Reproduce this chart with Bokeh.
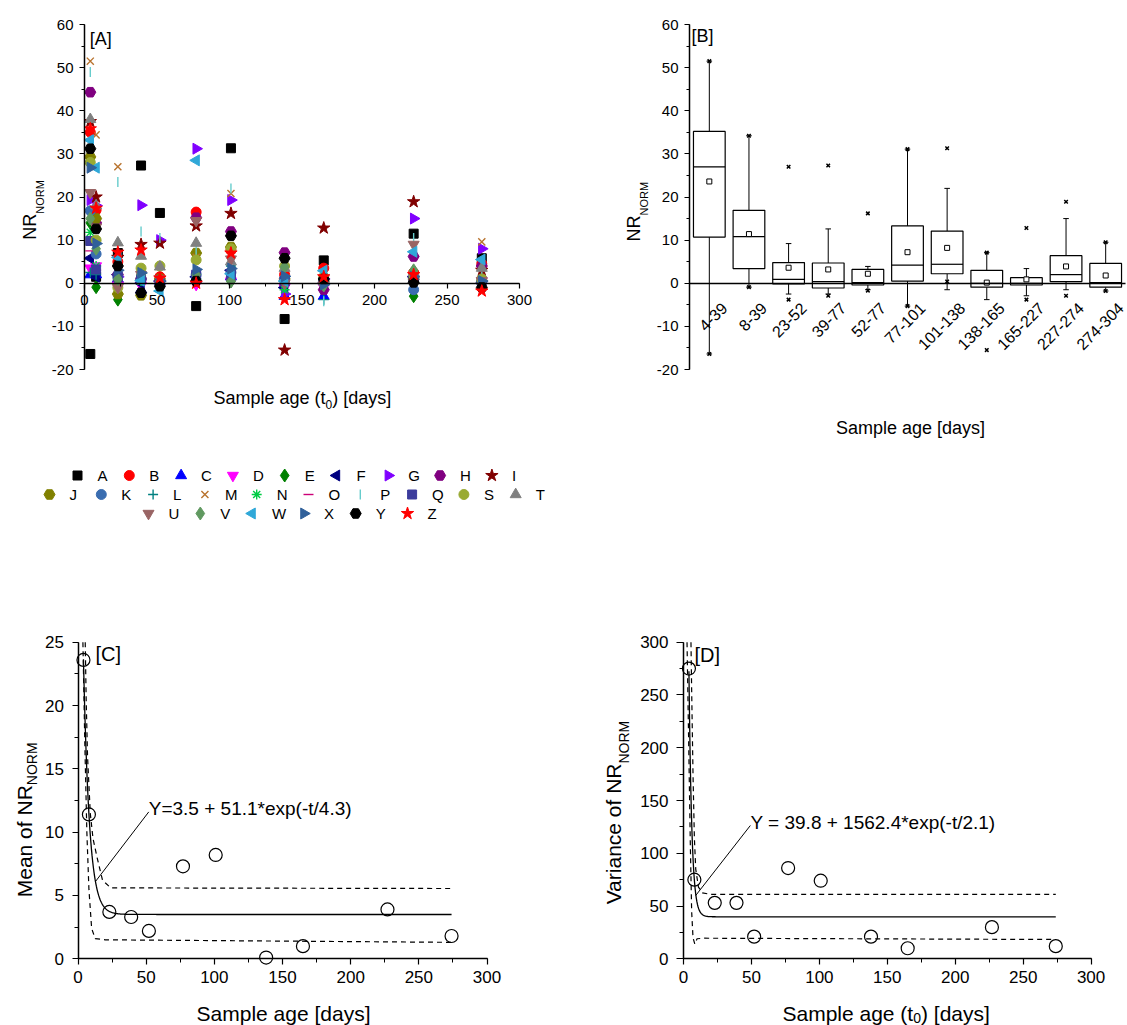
import numpy as np
from math import pi
from bokeh.plotting import figure
from bokeh.layouts import column, row
from bokeh.models import Label, FixedTicker, Range1d
from bokeh.embed import file_html
from bokeh.resources import INLINE

FONT = "Liberation Sans"

# ---------------- data ----------------
ages = [4, 8, 23, 39, 52, 77, 101, 138, 165, 227, 274]

nr_A = [-16.4, 1.5, 7.0, 27.3, 16.3, -5.3, 31.3, -8.3, 5.3, 11.5, 5.8]
nr_B = [35.0, 17.0, 5.0, 1.0, 1.5, 16.5, 7.6, 2.0, 3.5, 2.5, 4.5]
nr_C = [2.0, 2.0, 1.0, -1.5, 0.5, 1.0, 1.5, -3.0, -3.0, 1.5, 1.0]
nr_D = [3.5, 4.0, -0.5, -0.5, 0.0, -0.3, 0.5, -1.0, -1.0, 1.0, 0.5]
nr_E = [14.0, -0.9, -3.8, 0.5, 0.0, 1.0, 0.5, 0.5, 0.0, -3.0, 0.0]
nr_F = [5.8, 1.5, 2.0, 0.0, 0.5, 1.5, 3.0, -1.0, 0.0, 1.5, 0.0]
nr_G = [19.3, 18.0, 1.5, 18.1, 10.0, 31.2, 19.3, -2.5, 1.0, 15.0, 8.0]
nr_H = [44.3, 14.0, 2.0, 1.0, 0.5, 15.2, 12.0, 7.1, -1.5, 6.2, 4.0]
nr_I = [37.5, 20.0, 6.0, 9.0, 9.3, 13.3, 16.2, -15.5, 12.8, 18.9, 3.0]
nr_J = [29.3, 15.0, -2.5, -2.8, 1.0, 7.0, 8.4, 1.0, 0.5, 1.0, 0.5]
nr_K = [16.8, 6.8, 1.5, 1.0, 0.0, 2.0, 2.5, 1.0, 0.5, -1.5, 0.5]
nr_L = [2.5, 2.0, 2.0, 1.0, 0.5, 1.0, 4.0, 0.5, -3.8, 0.5, 0.5]
nr_M = [51.5, 34.4, 27.0, 0.5, 1.0, 6.0, 20.8, 0.0, 1.0, 1.5, 9.6]
nr_N = [11.8, 4.0, 1.0, 0.5, 0.0, 1.0, 1.0, -1.5, 0.0, 0.5, 0.0]
nr_O = [7.5, 3.0, 0.5, 0.0, 0.5, 0.5, 1.0, -0.5, 0.5, 0.5, 0.0]
nr_P = [49.0, 3.5, 23.5, 12.0, 10.5, 7.5, 22.0, 1.0, -4.2, 10.5, 1.5]
nr_Q = [9.8, 3.2, 1.5, 1.0, 0.0, 2.0, 2.0, 0.5, 0.5, 1.0, 0.5]
nr_S = [28.0, 10.0, -1.0, 3.5, 4.0, 5.4, 8.0, 4.0, 1.5, 2.0, 1.0]
nr_T = [38.0, 18.0, 9.4, 6.3, 3.8, 9.3, 5.0, 3.5, 0.5, 2.5, 3.5]
nr_U = [21.0, 13.0, -1.0, 2.0, 1.0, 14.5, 5.6, 0.0, -0.5, 9.0, 0.6]
nr_V = [15.0, 8.0, 1.0, 2.0, 0.5, 2.0, 0.4, 3.8, -0.5, 3.0, 0.0]
nr_W = [33.2, 26.8, 6.0, 0.6, -1.8, 28.5, 2.2, 0.5, 2.9, 7.3, 5.5]
nr_X = [26.8, 9.2, 3.0, 2.4, 0.5, 3.2, 3.4, 1.6, -0.3, 1.5, 0.5]
nr_Y = [31.2, 12.6, 4.0, -2.2, -0.7, 0.5, 11.0, 5.8, 1.0, 0.2, -1.0]
nr_Z = [35.8, 17.4, 7.2, 7.7, 1.2, 0.0, 7.0, -3.8, 1.5, 2.0, -1.8]

series = {"A": nr_A, "B": nr_B, "C": nr_C, "D": nr_D, "E": nr_E, "F": nr_F,
          "G": nr_G, "H": nr_H, "I": nr_I, "J": nr_J, "K": nr_K, "L": nr_L,
          "M": nr_M, "N": nr_N, "O": nr_O, "P": nr_P, "Q": nr_Q, "S": nr_S,
          "T": nr_T, "U": nr_U, "V": nr_V, "W": nr_W, "X": nr_X, "Y": nr_Y,
          "Z": nr_Z}
legend_rows = [["A", "B", "C", "D", "E", "F", "G", "H", "I"],
               ["J", "K", "L", "M", "N", "O", "P", "Q", "S", "T"],
               ["U", "V", "W", "X", "Y", "Z"]]

box_labels = ["4-39", "8-39", "23-52", "39-77", "52-77", "77-101", "101-138",
              "138-165", "165-227", "227-274", "274-304"]
box_q1 = [10.7, 3.4, -0.15, -1.1, -0.4, 0.5, 2.2, -0.9, -0.4, 0.4, -0.9]
box_med = [27.0, 10.8, 0.9, 0.4, 0.15, 4.2, 4.4, 0.0, 0.0, 2.0, 0.15]
box_q3 = [35.2, 16.9, 4.8, 4.7, 3.2, 13.3, 12.1, 3.0, 1.3, 6.4, 4.6]
box_mean = [23.6, 11.4, 3.6, 3.2, 2.2, 7.2, 8.2, 0.15, 0.9, 3.9, 1.8]
box_whi = [51.5, 34.2, 9.2, 12.6, 3.9, 31.1, 22.0, 7.1, 3.4, 15.0, 9.5]
box_wlo = [-16.4, -0.9, -2.5, -2.5, -1.5, -5.3, -1.5, -3.8, -2.9, -1.5, -1.8]
box_max = [51.5, 34.2, 27.0, 27.3, 16.2, 31.1, 31.3, 7.1, 12.8, 18.9, 9.5]
box_min = [-16.4, -0.9, -3.8, -2.9, -1.7, -5.3, 0.4, -15.5, -3.8, -2.9, -1.8]

mean_nr = [23.6, 11.4, 3.7, 3.3, 2.2, 7.3, 8.2, 0.1, 1.0, 3.9, 1.8]
var_nr = [275, 75, 53, 53, 21, 86, 74, 21, 10, 30, 12]

# fit parameters printed on the chart: Y = y0 + A*exp(-t/tau)
fitC = (3.5, 51.1, 4.3)
fitD = (39.8, 1562.4, 2.1)
eqC = "Y=3.5 + 51.1*exp(-t/4.3)"
eqD = "Y = 39.8 + 1562.4*exp(-t/2.1)"

# confidence bands
bandC_up_t = [5.3, 6, 7, 9, 11, 14, 18, 24, 274]
bandC_up_y = [25, 20.5, 16, 11.5, 9.5, 8.0, 6.2, 5.6, 5.55]
bandC_lo_t = [3.6, 5, 6.5, 8, 10, 12.6, 20, 274]
bandC_lo_y = [25, 17, 10, 5.5, 2.4, 1.6, 1.5, 1.3]
bandD_up_t = [5.5, 6, 7, 8, 9, 11, 14, 20, 274]
bandD_up_y = [300, 255, 175, 115, 85, 68, 62.5, 61, 61]
bandD_lo_t = [2.6, 4, 5, 6, 7, 8.3, 10, 15, 274]
bandD_lo_y = [300, 190, 110, 45, 20, 14, 19, 19.5, 18.3]

# callout lines (text anchor -> curve)
calloutC = ([51.9, 12.8], [11.6, 6.1])
calloutD = ([49.2, 9.0], [126.3, 60.0])

# ---------------- styles ----------------
marker_style = {
    "A": ("square", "#000000", 9, 0.0),
    "B": ("circle", "#FF0000", 10, 0.0),
    "C": ("triangle", "#0000FF", 11, 0.0),
    "D": ("inverted_triangle", "#FF00FF", 11, 0.0),
    "E": ("diamond", "#008000", 13, 0.0),
    "F": ("triangle", "#000080", 11, pi / 2),
    "G": ("triangle", "#8000FF", 11, -pi / 2),
    "H": ("hex", "#800080", 11, 0.0),
    "I": ("star", "#800000", 13, 0.0),
    "J": ("hex", "#808000", 11, 0.0),
    "K": ("circle", "#3A6DB0", 10, 0.0),
    "L": ("cross", "#008080", 10, 0.0),
    "M": ("x", "#B8732E", 10, 0.0),
    "N": ("asterisk", "#00CC44", 10, 0.0),
    "O": ("dash", "#CC0077", 10, 0.0),
    "P": ("dash", "#66CCCC", 10, pi / 2),
    "Q": ("square", "#3C3C9C", 9, 0.0),
    "S": ("circle", "#99AA33", 10, 0.0),
    "T": ("triangle", "#808080", 11, 0.0),
    "U": ("inverted_triangle", "#996464", 11, 0.0),
    "V": ("diamond", "#609960", 13, 0.0),
    "W": ("triangle", "#30A8D8", 11, pi / 2),
    "X": ("triangle", "#30609A", 11, -pi / 2),
    "Y": ("hex", "#000000", 11, 0.0),
    "Z": ("star", "#FF0000", 13, 0.0),
}
line_markers = {"cross", "x", "asterisk", "dash"}

# legend layout (pixels inside panel A's canvas)
legend_x0 = [77, 49, 148]
legend_y = [475, 494, 513]
legend_pitch = 51.8
legend_label_dx = 20


def xspan(d0, d1, p0, p1, total):
    """x range so that data d0 sits at pixel p0 and d1 at p1 (pixels from left)."""
    s = (p1 - p0) / (d1 - d0)
    return Range1d(d0 - p0 / s, d1 + (total - p1) / s)


def yspan(d_top, d_bot, p_top, p_bot, total):
    """y range so that d_top sits at pixel p_top and d_bot at p_bot (pixels from top)."""
    s = (p_bot - p_top) / (d_top - d_bot)
    return Range1d(d_bot - (total - p_bot) / s, d_top + p_top / s)


def make_fig(w, h, xr, yr):
    p = figure(width=w, height=h, x_range=xr, y_range=yr, output_backend="svg",
               toolbar_location=None, min_border_left=0, min_border_right=0,
               min_border_top=0, min_border_bottom=0)
    p.outline_line_color = None
    p.xgrid.visible = False
    p.ygrid.visible = False
    p.background_fill_color = "white"
    p.border_fill_color = "white"
    p.xaxis.fixed_location = 0
    p.yaxis.fixed_location = 0
    return p


def style_axis(ax, size, tick_out, minor_out, standoff, bounds):
    ax.bounds = bounds
    ax.axis_line_width = 1.5
    ax.axis_line_color = "black"
    ax.major_tick_line_width = 1.2
    ax.minor_tick_line_width = 1
    ax.major_tick_line_color = "black"
    ax.minor_tick_line_color = "black"
    ax.major_tick_in = 0
    ax.major_tick_out = tick_out
    ax.minor_tick_in = 0
    ax.minor_tick_out = minor_out
    ax.major_label_text_font = FONT
    ax.major_label_text_font_size = size
    ax.major_label_text_color = "black"
    ax.major_label_standoff = standoff


def add_text(p, x, y, text, size, align="left", angle=0.0, units="screen"):
    p.add_layout(Label(x=x, y=y, x_units=units, y_units=units, text=text,
                       text_font=FONT, text_font_size=f"{size}px",
                       text_align=align, text_baseline="middle", angle=angle,
                       text_color="black"))


def draw_marker(p, x, y, name, **kw):
    mk, col, sz, ang = marker_style[name]
    if mk in line_markers:
        return p.scatter(x=x, y=y, marker=mk, size=sz, angle=ang, line_color=col,
                         line_width=1.4, fill_color=None, **kw)
    return p.scatter(x=x, y=y, marker=mk, size=sz, angle=ang, line_color=col,
                     fill_color=col, line_width=1, **kw)


hyphen_labels = {v: str(v) for v in range(-20, 0, 5)}

# ---------------- panel A ----------------
WA, HA = 560, 620
pA = make_fig(WA, HA, xspan(0, 300, 84, 519, WA), yspan(60, -20, 24, 369, HA))
pA.xaxis.ticker = FixedTicker(ticks=list(range(0, 301, 50)), minor_ticks=list(range(0, 301, 25)))
pA.yaxis.ticker = FixedTicker(ticks=list(range(-20, 61, 10)), minor_ticks=list(range(-20, 61, 5)))
pA.yaxis.major_label_overrides = hyphen_labels
style_axis(pA.xaxis[0], "15px", 5, 3, 7, (0, 300))
style_axis(pA.yaxis[0], "15px", 5, 3, 6, (-20, 60))

for name, vals in series.items():
    draw_marker(pA, ages, vals, name)

# legend: symbol + letter, three centred rows below the plot
pA.extra_x_ranges = {"px": Range1d(0, WA)}
pA.extra_y_ranges = {"px": Range1d(HA, 0)}
for names, x0, yrow in zip(legend_rows, legend_x0, legend_y):
    for i, n in enumerate(names):
        xm = x0 + i * legend_pitch
        draw_marker(pA, [xm], [yrow], n, x_range_name="px", y_range_name="px")
        add_text(pA, xm + legend_label_dx, HA - yrow, n, 15)

add_text(pA, 89.3, 581.7, "[A]", 18)
add_text(pA, 29.3, 406.7, "NR", 18, align="right", angle=pi / 2)
add_text(pA, 39.3, 406.7, "NORM", 11, align="left", angle=pi / 2)
add_text(pA, 325, 223, "Sample age (t", 18, align="right")
add_text(pA, 325, 216, "0", 12, align="left")
add_text(pA, 331.7, 223, ") [days]", 18, align="left")

# ---------------- panel B ----------------
WB, HB = 567, 620
nb = len(box_labels)
pB = make_fig(WB, HB, xspan(0, nb, 129, 565, WB), yspan(60, -20, 24, 369, HB))
bx = np.arange(nb) + 0.5
tick_pos = [float(v) for v in bx + 0.375]
pB.xaxis.ticker = FixedTicker(ticks=tick_pos, minor_ticks=[])
pB.xaxis.major_label_overrides = {t: lab for t, lab in zip(tick_pos, box_labels)}
pB.xaxis.major_label_orientation = pi / 4
pB.yaxis.ticker = FixedTicker(ticks=list(range(-20, 61, 10)), minor_ticks=list(range(-20, 61, 5)))
pB.yaxis.major_label_overrides = hyphen_labels
style_axis(pB.xaxis[0], "16px", 0, 0, 22, (0, nb))
pB.xaxis.major_tick_line_color = None
pB.xaxis.minor_tick_line_color = None
style_axis(pB.yaxis[0], "15px", 5, 3, 6, (-20, 60))

hw = 0.4
pB.segment(x0=bx, x1=bx, y0=box_q3, y1=box_whi, line_color="black", line_width=1)
pB.segment(x0=bx, x1=bx, y0=box_q1, y1=box_wlo, line_color="black", line_width=1)
pB.segment(x0=bx - 0.07, x1=bx + 0.07, y0=box_whi, y1=box_whi, line_color="black", line_width=1)
pB.segment(x0=bx - 0.07, x1=bx + 0.07, y0=box_wlo, y1=box_wlo, line_color="black", line_width=1)
pB.vbar(x=bx, width=2 * hw, bottom=box_q1, top=box_q3, fill_color="white",
        line_color="black", line_width=1.2)
pB.segment(x0=bx - hw, x1=bx + hw, y0=box_med, y1=box_med, line_color="black", line_width=1.2)
pB.scatter(x=bx, y=box_mean, marker="square", size=5, fill_color="white",
           line_color="black", line_width=1)
pB.scatter(x=bx, y=box_max, marker="x", size=5, line_color="black", line_width=1.5)
pB.scatter(x=bx, y=box_min, marker="x", size=5, line_color="black", line_width=1.5)

add_text(pB, 131, 584.3, "[B]", 18)
add_text(pB, 73, 405, "NR", 18, align="right", angle=pi / 2)
add_text(pB, 83.5, 405, "NORM", 11, align="left", angle=pi / 2)
add_text(pB, 350, 193, "Sample age [days]", 18, align="center")

# ---------------- panel C ----------------
WC, HC = 560, 405
pC = make_fig(WC, HC, xspan(0, 300, 77.5, 486.5, WC), yspan(25, 0, 21.7, 338.3, HC))
pC.xaxis.ticker = FixedTicker(ticks=list(range(0, 301, 50)), minor_ticks=list(range(0, 301, 25)))
pC.yaxis.ticker = FixedTicker(ticks=list(range(0, 26, 5)), minor_ticks=list(np.arange(0, 25.1, 2.5)))
style_axis(pC.xaxis[0], "17px", 6, 4, 6, (0, 300))
style_axis(pC.yaxis[0], "17px", 6, 4, 8, (0, 25))

tC = np.linspace(min(ages), max(ages), 600)
pC.line(tC, fitC[0] + fitC[1] * np.exp(-tC / fitC[2]), line_color="black", line_width=1.3)
pC.line(bandC_up_t, bandC_up_y, line_color="black", line_width=1.2, line_dash="5 4")
pC.line(bandC_lo_t, bandC_lo_y, line_color="black", line_width=1.2, line_dash="5 4")
pC.line(calloutC[0], calloutC[1], line_color="black", line_width=1)
pC.scatter(x=ages, y=mean_nr, marker="circle", size=13, fill_color=None,
           line_color="black", line_width=1.2)
add_text(pC, 51.9, 11.9, eqC, 19, units="data")
add_text(pC, 95, 372, "[C]", 20)
add_text(pC, 24, 240.3, "Mean of NR", 21, align="right", angle=pi / 2)
add_text(pC, 31.5, 240.3, "NORM", 14, align="left", angle=pi / 2)
add_text(pC, 283, 12, "Sample age [days]", 21, align="center")

# ---------------- panel D ----------------
WD, HD = 567, 405
pD = make_fig(WD, HD, xspan(0, 300, 123, 530.6, WD), yspan(300, 0, 21.7, 338.3, HD))
pD.xaxis.ticker = FixedTicker(ticks=list(range(0, 301, 50)), minor_ticks=list(range(0, 301, 25)))
pD.yaxis.ticker = FixedTicker(ticks=list(range(0, 301, 50)), minor_ticks=list(range(0, 301, 25)))
style_axis(pD.xaxis[0], "17px", 6, 4, 6, (0, 300))
style_axis(pD.yaxis[0], "17px", 7, 4, 8, (0, 300))

tD = np.linspace(min(ages), max(ages), 600)
pD.line(tD, fitD[0] + fitD[1] * np.exp(-tD / fitD[2]), line_color="black", line_width=1.3)
pD.line(bandD_up_t, bandD_up_y, line_color="black", line_width=1.2, line_dash="5 4")
pD.line(bandD_lo_t, bandD_lo_y, line_color="black", line_width=1.2, line_dash="5 4")
pD.line(calloutD[0], calloutD[1], line_color="black", line_width=1)
pD.scatter(x=ages, y=var_nr, marker="circle", size=13, fill_color=None,
           line_color="black", line_width=1.2)
add_text(pD, 49.3, 128.9, eqD, 19, units="data")
add_text(pD, 134, 370.3, "[D]", 20)
add_text(pD, 52.5, 262, "Variance of NR", 21, align="right", angle=pi / 2)
add_text(pD, 63, 262, "NORM", 14, align="left", angle=pi / 2)
add_text(pD, 352.7, 12.5, "Sample age (t", 21, align="right")
add_text(pD, 352.7, 7.5, "0", 14, align="left")
add_text(pD, 360.5, 12.5, ") [days]", 21, align="left")

layout = column(row(pA, pB), row(pC, pD))
open("out.html", "w").write(file_html(layout, INLINE, "NR_NORM vs sample age"))
